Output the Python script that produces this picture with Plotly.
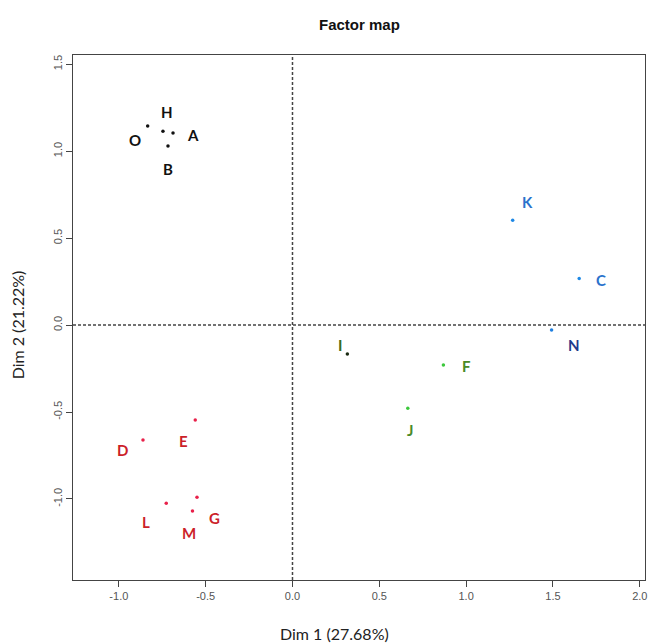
import plotly.graph_objects as go

# ---- data ----
names = ["O", "H", "A", "B", "E", "D", "G", "L", "M", "K", "C", "N", "I", "F", "J"]
dim1 = [-0.834, -0.746, -0.688, -0.717, -0.560, -0.861, -0.550, -0.727, -0.576,
        1.268, 1.651, 1.492, 0.316, 0.869, 0.664]
dim2 = [1.145, 1.115, 1.105, 1.029, -0.546, -0.661, -0.990, -1.025, -1.069,
        0.603, 0.268, -0.029, -0.167, -0.230, -0.479]
groups = ["black", "black", "black", "black", "red", "red", "red", "red", "red",
          "blue", "blue", "navy", "dkgreen", "green", "green"]
x_ticks = [-1.0, -0.5, 0.0, 0.5, 1.0, 1.5, 2.0]
y_ticks = [-1.0, -0.5, 0.0, 0.5, 1.0, 1.5]
title_text = "Factor map"
x_title = "Dim 1 (27.68%)"
y_title = "Dim 2 (21.22%)"

# ---- styles ----
marker_col = {"black": "#111111", "red": "#e8204a", "blue": "#1e88e5",
              "navy": "#1e7fe0", "dkgreen": "#1a2a12", "green": "#3cc83c"}
label_col = {"black": "#111111", "red": "#cc1f2a", "blue": "#2a72cc",
             "navy": "#1e3a8c", "dkgreen": "#3b6a20", "green": "#4a8a28"}
# label offsets in pixels (dx right, dy down)
label_off = {"O": (-13, 14), "H": (4, -19), "A": (20, 2), "B": (0, 23),
             "E": (-12, 21), "D": (-20, 10), "G": (18, 21), "L": (-20, 19),
             "M": (-3, 22), "K": (15, -18), "C": (22, 2), "N": (22, 15),
             "I": (-7, -9), "F": (23, 1), "J": (2, 22)}

fig = go.Figure()
fig.add_trace(go.Scatter(
    x=dim1, y=dim2, mode="markers",
    marker=dict(size=3.5, color=[marker_col[g] for g in groups], line=dict(width=0)),
    showlegend=False, hoverinfo="skip"))

for n, xv, yv, g in zip(names, dim1, dim2, groups):
    dx, dy = label_off[n]
    fig.add_annotation(x=xv, y=yv, text=n, showarrow=False,
                       xshift=dx, yshift=-dy,
                       font=dict(family="Lato, Open Sans, sans-serif", size=15,
                                 color=label_col[g], weight="bold"))

# reference lines at 0
fig.add_shape(type="line", xref="x", yref="paper", x0=0, x1=0, y0=0, y1=1,
              line=dict(color="#444444", width=1.5, dash="3px,2px"))
fig.add_shape(type="line", xref="paper", yref="y", x0=0, x1=1, y0=0, y1=0,
              line=dict(color="#444444", width=1.5, dash="3px,2px"))

tickfont = dict(family="Liberation Sans, Arial, sans-serif", size=11, color="#555555")
fig.update_xaxes(range=[-1.264, 2.03], tickvals=x_ticks,
                 ticktext=[f"{v:.1f}" for v in x_ticks], automargin=False,
                 showgrid=False, zeroline=False, showline=True, mirror=True,
                 linecolor="#444444", linewidth=1.2, ticks="outside", ticklen=6,
                 tickcolor="#444444", tickfont=tickfont)
fig.update_yaxes(range=[-1.466, 1.553], tickvals=y_ticks,
                 ticktext=[f"{v:.1f}" for v in y_ticks], tickangle=-90, automargin=False,
                 showgrid=False, zeroline=False, showline=True, mirror=True,
                 linecolor="#444444", linewidth=1.2, ticks="outside", ticklen=6,
                 tickcolor="#444444", tickfont=tickfont)

fig.add_annotation(xref="paper", yref="paper", x=0.457, y=-0.101, text=x_title,
                   showarrow=False, yanchor="middle", xanchor="center",
                   font=dict(family="Lato, Open Sans, sans-serif", size=16, color="#222222"))
fig.add_annotation(xref="paper", yref="paper", x=-0.097, y=0.486, text=y_title,
                   showarrow=False, textangle=-90, xanchor="center", yanchor="middle",
                   font=dict(family="Lato, Open Sans, sans-serif", size=16, color="#222222"))

fig.update_layout(
    width=650, height=643,
    margin=dict(l=73, r=5, t=55, b=63, autoexpand=False),
    paper_bgcolor="white", plot_bgcolor="white",
    title=dict(text=title_text, x=0.553, xanchor="center", y=0.962, yanchor="middle",
               automargin=False,
               font=dict(family="Liberation Sans Narrow, Liberation Sans, Arial, sans-serif",
                         size=15, color="#111111", weight="bold")),
)

fig.write_html("out.html", config={"displayModeBar": False},
               post_script="document.body.style.margin='0';document.body.style.overflow='hidden';")
